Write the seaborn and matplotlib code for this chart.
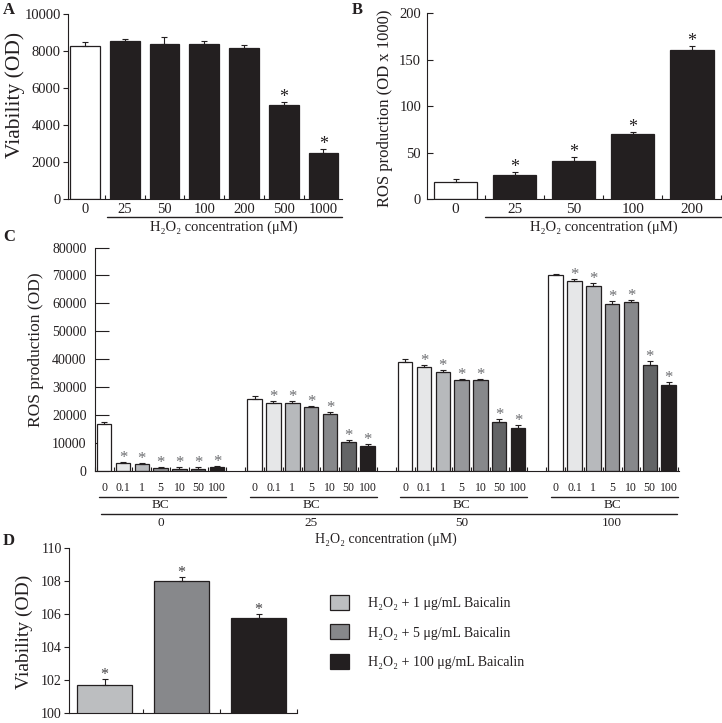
import numpy as np
import pandas as pd
import matplotlib
matplotlib.use("Agg")
import matplotlib.pyplot as plt
import matplotlib.transforms as mtransforms
from matplotlib.patches import Patch
import seaborn as sns

# --- data: panel A (viability vs H2O2) ---
a_conc = ["0", "25", "50", "100", "200", "500", "1000"]
a_viab = [8300, 8520, 8400, 8360, 8180, 5100, 2500]
a_err = [200, 150, 360, 160, 160, 160, 210]
a_sig = [False, False, False, False, False, True, True]

# --- data: panel B (ROS vs H2O2) ---
b_conc = ["0", "25", "50", "100", "200"]
b_ros = [18.5, 26, 41, 70, 161]
b_err = [2.5, 3.2, 3.9, 2.5, 3.6]
b_sig = [False, True, True, True, True]

# --- data: panel C (ROS, baicalin x H2O2) ---
c_h2o2 = ["0", "25", "50", "100"]
c_bc = ["0", "0.1", "1", "5", "10", "50", "100"]
c_ros_0 = [17000, 2700, 2400, 1100, 900, 900, 1500]
c_err_0 = [700, 500, 500, 400, 400, 400, 400]
c_ros_25 = [25900, 24500, 24250, 22850, 20250, 10450, 9100]
c_err_25 = [1050, 700, 900, 600, 800, 600, 600]
c_ros_50 = [38900, 37300, 35500, 32600, 32500, 17700, 15400]
c_err_50 = [1050, 800, 800, 500, 500, 800, 1050]
c_ros_100 = [70000, 68100, 66400, 59900, 60600, 38000, 30900]
c_err_100 = [700, 800, 800, 950, 600, 1400, 800]
c_colors = ["#ffffff", "#e6e7e8", "#b7b9bc", "#97989b", "#87888b", "#636466", "#231f20"]

# --- data: panel D ---
d_labels = ["H\u2082O\u2082 + 1 \u03bcg/mL Baicalin",
            "H\u2082O\u2082 + 5 \u03bcg/mL Baicalin",
            "H\u2082O\u2082 + 100 \u03bcg/mL Baicalin"]
d_viab = [101.7, 108.0, 105.8]
d_err = [0.35, 0.25, 0.2]
d_colors = ["#bcbec0", "#87888b", "#231f20"]

INK = "#231f20"
XLAB = "H\u2082O\u2082 concentration (\u03bcM)"

sns.set_style("ticks")
plt.rcParams["font.family"] = ["Liberation Serif", "DejaVu Serif"]
plt.rcParams["text.color"] = INK
plt.rcParams["axes.edgecolor"] = INK
plt.rcParams["xtick.color"] = INK
plt.rcParams["ytick.color"] = INK
plt.rcParams["axes.linewidth"] = 0.8

fig = plt.figure(figsize=(7.22, 7.23), dpi=100)


def draw_bars(ax, labels, values, errs, colors, width, order=None, sig=None,
              star_size=10, star_color=INK):
    df = pd.DataFrame({"x": labels, "y": values})
    pal = dict(zip(labels, colors))
    sns.barplot(data=df, x="x", y="y", hue="x", order=order, hue_order=labels,
                palette=pal, width=width, saturation=1, edgecolor=INK,
                linewidth=0.9, errorbar=None, legend=False, ax=ax)
    ords = order if order is not None else labels
    pos = [ords.index(l) for l in labels]
    ax.errorbar(pos, values, yerr=[np.zeros(len(values)), errs], fmt="none",
                ecolor=INK, elinewidth=0.8, capsize=2.5, capthick=0.8, zorder=3)
    if sig is not None:
        for p, v, e, s in zip(pos, values, errs, sig):
            if s:
                ax.annotate("*", xy=(p, v + e), xytext=(0, 0), textcoords="offset points",
                            ha="center", va="baseline", fontsize=star_size, color=star_color)
    ax.set_xlabel("")
    ax.set_ylabel("")
    sns.despine(ax=ax)
    return pos


def hline(ax, x0, x1, y, lw=1.0):
    tr = mtransforms.blended_transform_factory(ax.transData, ax.transAxes)
    ax.plot([x0, x1], [y, y], color=INK, lw=lw, transform=tr, clip_on=False)


def label_at(ax, x, y, s, size):
    tr = mtransforms.blended_transform_factory(ax.transData, ax.transAxes)
    ax.text(x, y, s, transform=tr, ha="center", va="center", fontsize=size)


# ---------------- Panel A ----------------
axA = fig.add_axes([0.0946, 0.7243, 0.3787, 0.2563])
posA = draw_bars(axA, a_conc, a_viab, a_err, ["#ffffff"] + ["#231f20"] * 6, 0.75,
                 sig=a_sig, star_size=13)
axA.set_ylim(0, 10000)
axA.set_yticks(np.arange(0, 10001, 2000))
axA.set_xlim(-0.42, 6.46)
axA.set_xticks(posA, a_conc)
axA.set_xticks(np.arange(0.5, 6.5, 1), minor=True)
axA.tick_params(axis="x", which="major", length=0, labelsize=10.5, pad=3)
axA.tick_params(axis="x", which="minor", direction="in", length=3, width=0.8)
axA.tick_params(axis="y", direction="out", length=3.5, width=0.8, labelsize=10.5, pad=2)
hline(axA, 0.55, 6.46, -0.095)
label_at(axA, 3.5, -0.15, XLAB, 10.5)

# ---------------- Panel B ----------------
axB = fig.add_axes([0.591, 0.7248, 0.4083, 0.2568])
posB = draw_bars(axB, b_conc, b_ros, b_err, ["#ffffff"] + ["#231f20"] * 4, 0.73,
                 sig=b_sig, star_size=13)
axB.set_ylim(0, 200)
axB.set_yticks(np.arange(0, 201, 50))
axB.set_xlim(-0.49, 4.5)
axB.set_xticks(posB, b_conc)
axB.set_xticks(np.arange(0.5, 4.6, 1), minor=True)
axB.tick_params(axis="x", which="major", length=0, labelsize=11, pad=3)
axB.tick_params(axis="x", which="minor", direction="in", length=3, width=0.8)
axB.tick_params(axis="y", direction="in", length=4, width=0.8, labelsize=10.5, pad=4)
hline(axB, 0.5, 4.5, -0.097)
label_at(axB, 2.5, -0.153, XLAB, 10.5)

# ---------------- Panel C ----------------
axC = fig.add_axes([0.1312, 0.3485, 0.8086, 0.3091])
c_vals = [c_ros_0, c_ros_25, c_ros_50, c_ros_100]
c_errs = [c_err_0, c_err_25, c_err_50, c_err_100]
c_labels, c_values, c_errors, c_cols, c_sig = [], [], [], [], []
c_order = []
for gi, h in enumerate(c_h2o2):
    for bi, b in enumerate(c_bc):
        lab = h + "|" + b
        c_labels.append(lab)
        c_values.append(c_vals[gi][bi])
        c_errors.append(c_errs[gi][bi])
        c_cols.append(c_colors[bi])
        c_sig.append(bi > 0)
        c_order.append(lab)
    if gi < len(c_h2o2) - 1:
        c_order.append("gap" + h)
posC = draw_bars(axC, c_labels, c_values, c_errors, c_cols, 0.77, order=c_order,
                 sig=c_sig, star_size=12, star_color="#6d6e71")
axC.set_ylim(0, 80000)
axC.set_yticks(np.arange(0, 80001, 10000))
axC.set_xlim(-0.44, 30.53)
axC.set_xticks(posC, [l.split("|")[1] for l in c_labels])
minorC = []
for gi in range(len(c_h2o2)):
    minorC += [gi * 8 - 0.5 + k for k in range(8)]
axC.set_xticks(minorC, minor=True)
axC.tick_params(axis="x", which="major", length=0, labelsize=8.5, pad=8)
axC.tick_params(axis="x", which="minor", direction="in", length=3, width=0.8)
axC.tick_params(axis="y", direction="in", length=10, width=0.8, labelsize=10, pad=6)
for gi, h in enumerate(c_h2o2):
    hline(axC, gi * 8 - 0.25, gi * 8 + 6.5, -0.118)
    label_at(axC, gi * 8 + 3, -0.152, "BC", 9.5)
    label_at(axC, gi * 8 + 3, -0.233, h, 9.5)
hline(axC, -0.15, 30.46, -0.193)
label_at(axC, 15, -0.305, XLAB, 10)

# ---------------- Panel D ----------------
axD = fig.add_axes([0.096, 0.0134, 0.3154, 0.2282])
posD = draw_bars(axD, d_labels, d_viab, d_err, d_colors, 0.72, sig=[True] * 3,
                 star_size=11.5, star_color="#414042")
axD.set_ylim(100, 110)
axD.set_yticks(np.arange(100, 111, 2))
axD.set_xlim(-0.46, 2.49)
axD.set_xticks([])
axD.set_xticks([0.5, 1.5, 2.5], minor=True)
axD.tick_params(axis="x", which="minor", direction="in", length=3, width=0.8)
axD.tick_params(axis="y", direction="out", length=3.5, width=0.8, labelsize=10, pad=2)
handles = [Patch(facecolor=c, edgecolor=INK, linewidth=0.9) for c in d_colors]
axD.legend(handles=handles, labels=d_labels, loc="upper left",
           bbox_to_anchor=(330 / 722, 1 - 594.5 / 723), bbox_transform=fig.transFigure,
           frameon=False, borderpad=0, borderaxespad=0, handlelength=1.35,
           handleheight=1.3, handletextpad=1.4, labelspacing=1.05, fontsize=10)

# ---------------- axis titles and panel letters ----------------
fig.text(15 / 722, 1 - 95 / 723, "Viability (OD)", rotation=90, ha="center", va="center", fontsize=15.5)
fig.text(385 / 722, 1 - 108 / 723, "ROS production (OD x 1000)", rotation=90, ha="center", va="center", fontsize=12)
fig.text(36 / 722, 1 - 350 / 723, "ROS production (OD)", rotation=90, ha="center", va="center", fontsize=12.5)
fig.text(24 / 722, 1 - 632 / 723, "Viability (OD)", rotation=90, ha="center", va="center", fontsize=14)
for letter, x, y in [("A", 9, 10), ("B", 357, 10), ("C", 9, 237), ("D", 9, 541)]:
    fig.text(x / 722, 1 - y / 723, letter, ha="center", va="center", fontsize=12, fontweight="bold")

fig.savefig("out.png", dpi=100)
